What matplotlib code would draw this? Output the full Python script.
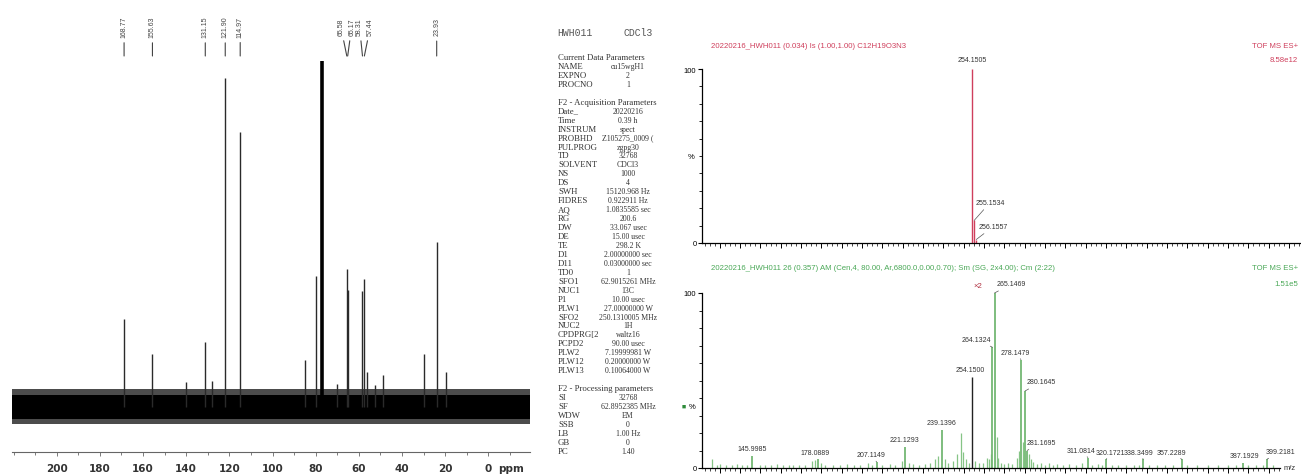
import matplotlib
matplotlib.use('Agg')
import matplotlib.pyplot as plt
from matplotlib.ticker import MultipleLocator, FixedLocator, NullFormatter

W, H = 1301, 477

# ---- 13C NMR (CDCl3) ----
nmr_labeled_ppm = [168.77, 155.63, 131.15, 121.90, 114.97, 65.58, 65.17, 58.31, 57.44, 23.93]
nmr_labeled_height = [88, 53, 65, 329, 275, 138, 117, 116, 128, 165]
nmr_other_ppm = [140.1, 128.2, 84.9, 80.0, 70.3, 56.1, 52.7, 48.7, 29.7, 19.6]
nmr_other_height = [25, 26, 47, 131, 23, 35, 22, 32, 53, 35]
solvent_ppm = 77.16
solvent_height = 360
nmr_noise_core = (-12, 12)
nmr_noise_edge = (-17, 18)
nmr_tick_values = [200, 180, 160, 140, 120, 100, 80, 60, 40, 20, 0]

# ---- acquisition / processing parameters ----
param_header = ("HWH011", "CDCl3")
param_lines = [
    ("Current Data Parameters", None),
    ("NAME", "cu15wgH1"), ("EXPNO", "2"), ("PROCNO", "1"),
    ("", None),
    ("F2 - Acquisition Parameters", None),
    ("Date_", "20220216"), ("Time", "0.39 h"), ("INSTRUM", "spect"),
    ("PROBHD", "Z105275_0009 ("), ("PULPROG", "zgpg30"), ("TD", "32768"),
    ("SOLVENT", "CDCl3"), ("NS", "1000"), ("DS", "4"),
    ("SWH", "15120.968 Hz"), ("FIDRES", "0.922911 Hz"), ("AQ", "1.0835585 sec"),
    ("RG", "200.6"), ("DW", "33.067 usec"), ("DE", "15.00 usec"),
    ("TE", "298.2 K"), ("D1", "2.00000000 sec"), ("D11", "0.03000000 sec"),
    ("TD0", "1"), ("SFO1", "62.9015261 MHz"), ("NUC1", "13C"),
    ("P1", "10.00 usec"), ("PLW1", "27.00000000 W"), ("SFO2", "250.1310005 MHz"),
    ("NUC2", "1H"), ("CPDPRG[2", "waltz16"), ("PCPD2", "90.00 usec"),
    ("PLW2", "7.19999981 W"), ("PLW12", "0.20000000 W"), ("PLW13", "0.10064000 W"),
    ("", None),
    ("F2 - Processing parameters", None),
    ("SI", "32768"), ("SF", "62.8952385 MHz"), ("WDW", "EM"), ("SSB", "0"),
    ("LB", "1.00 Hz"), ("GB", "0"), ("PC", "1.40"),
]

# ---- HRMS: calculated isotope pattern ----
calc_title = "20220216_HWH011 (0.034) Is (1.00,1.00) C12H19O3N3"
calc_mode, calc_scale = "TOF MS ES+", "8.58e12"
calc_mz = [254.1505, 255.1534, 256.1557]
calc_int = [100, 13, 2]

# ---- HRMS: measured spectrum ----
meas_title = ("20220216_HWH011 26 (0.357) AM (Cen,4, 80.00, Ar,6800.0,0.00,0.70); "
              "Sm (SG, 2x4.00); Cm (2:22)")
meas_mode, meas_scale = "TOF MS ES+", "1.51e5"
meas_mz = [145.9985, 178.0889, 207.1149, 221.1293, 239.1396, 254.1500, 264.1324,
           265.1469, 278.1479, 280.1645, 281.1695, 311.0814, 320.1721, 338.3499,
           357.2289, 387.1929, 399.2181]
meas_int = [7, 5, 3.5, 12, 22, 52, 69, 100, 62, 44, 10, 6, 5, 5, 5, 3, 5]
lock_mz = 254.1500
bg_mz = [126.0, 128.5, 130.1, 133.0, 136.0, 138.3, 141.0, 143.5, 149.8, 152.0,
         155.0, 158.0, 161.0, 164.0, 166.0, 169.0, 172.0, 175.2, 176.8, 179.6,
         182.0, 185.7, 189.0, 192.4, 196.0, 199.0, 203.1, 205.0, 210.0, 213.7,
         216.0, 219.5, 223.0, 225.2, 228.0, 231.0, 233.4, 235.9, 237.5, 240.8,
         242.5, 244.9, 246.8, 248.5, 249.8, 251.1, 252.5, 255.5, 257.5, 259.6,
         261.3, 262.5, 263.2, 266.15, 267.1, 268.5, 270.0, 272.0, 274.0, 276.1,
         277.1, 279.15, 282.1, 283.1, 284.1, 286.0, 288.0, 290.0, 292.0, 294.0,
         296.0, 299.0, 302.0, 305.0, 308.0, 313.0, 316.0, 318.0, 323.0, 326.0,
         330.0, 334.0, 336.0, 341.0, 345.0, 349.0, 353.0, 360.0, 365.0, 370.0,
         375.0, 380.0, 384.0, 390.0, 394.0, 397.0, 402.0]
bg_int = [5, 2, 2.5, 1.5, 2, 2.5, 1.5, 2, 2, 1.5,
          2, 2.5, 1.5, 2, 2, 1.5, 2, 4, 4.5, 3,
          2, 2, 1.5, 2.5, 1.5, 2, 3, 2, 2, 2.5,
          1.5, 4, 3, 2.5, 2, 2.5, 3, 5, 7, 5,
          3, 4, 8, 20, 9, 5, 3, 4, 3, 3,
          6, 5, 8, 18, 6, 3, 2.5, 3, 2.5, 6,
          10, 15, 8, 5, 3.5, 2.5, 3, 2, 3, 2,
          2.5, 2, 2.5, 2, 3, 2, 2.5, 2, 2, 1.5,
          2, 1.5, 2, 1.5, 2, 1.5, 2, 1.5, 2, 1.5,
          2, 1.5, 2, 1.5, 2, 1.5, 2]

# label nudges (pixels)
nmr_label_dx = {65.58: -6, 65.17: 4, 58.31: -3, 57.44: 6}
calc_label_off = {254.1505: (0, 10), 255.1534: (16, 18), 256.1557: (17, 13)}
meas_label_off = {145.9985: (0, 7), 178.0889: (-2, 7), 207.1149: (-5, 7),
                  221.1293: (-1, 7), 239.1396: (0, 7), 254.1500: (-2, 7),
                  264.1324: (-16, 8), 265.1469: (17, 9), 278.1479: (-6, 7),
                  280.1645: (16, 9), 281.1695: (14, 8), 311.0814: (-7, 7),
                  320.1721: (4, 7), 338.3499: (-5, 7), 357.2289: (-10, 7),
                  387.1929: (2, 7), 399.2181: (13, 8)}

RED = '#cf3f5c'
GREEN = '#4aa857'
PEAK_GREEN = '#86c486'
SANS = ['Liberation Sans', 'DejaVu Sans']


def rect(left, top, right, bottom):
    return [left / W, 1 - bottom / H, (right - left) / W, (bottom - top) / H]


def fig_text(x, y, s, **kw):
    fig.text(x / W, 1 - y / H, s, **kw)


fig = plt.figure(figsize=(W / 100, H / 100), dpi=100)

# ================= NMR =================
ax = fig.add_axes(rect(12, 62, 530, 453))
ax.set_xlim(220.7, -19.3)
ax.set_ylim(-44.8, 346.5)
ax.axhspan(*nmr_noise_edge, color='black', alpha=0.7, lw=0)
ax.axhspan(*nmr_noise_core, color='black', lw=0)
ax.vlines(nmr_labeled_ppm, 0, nmr_labeled_height, color='#2a2a2a', lw=1.0)
ax.vlines(nmr_other_ppm, 0, nmr_other_height, color='#2a2a2a', lw=1.0)
ax.vlines([solvent_ppm], 0, [solvent_height], color='black', lw=2.6)
for s in ['left', 'right', 'top']:
    ax.spines[s].set_visible(False)
ax.spines['bottom'].set_color('#666')
ax.spines['bottom'].set_linewidth(0.8)
ax.set_yticks([])
ax.xaxis.set_major_locator(FixedLocator(nmr_tick_values))
ax.xaxis.set_minor_locator(MultipleLocator(10))
ax.tick_params(axis='x', which='major', length=3, width=0.6, color='#666',
               labelsize=7.5, labelcolor='#333', pad=5)
ax.tick_params(axis='x', which='minor', length=2, width=0.6, color='#666')
for lbl in ax.get_xticklabels():
    lbl.set_fontweight('bold')
ax.annotate('ppm', xy=(-10.5, 0), xycoords=('data', 'axes fraction'),
            xytext=(0, -16), textcoords='offset pixels', ha='center', va='center',
            fontsize=7.5, color='#333', fontweight='bold', annotation_clip=False)
for ppm in nmr_labeled_ppm:
    dx = nmr_label_dx.get(ppm, 0)
    ax.annotate(f'{ppm:.2f}', xy=(ppm, H - 57), xycoords=('data', 'figure pixels'),
                xytext=(dx, 29.5), textcoords='offset pixels', rotation=90,
                ha='center', va='center', fontsize=5, color='#444', family=SANS,
                annotation_clip=False,
                arrowprops=dict(arrowstyle='-', lw=0.8, color='#444',
                                shrinkA=2, shrinkB=0))

# ================= parameters =================
fig_text(557, 33, param_header[0], fontsize=7, family='Liberation Mono', color='#555',
         va='center')
fig_text(623, 33, param_header[1], fontsize=7, family='Liberation Mono', color='#555',
         va='center')
for i, (key, val) in enumerate(param_lines):
    y = 58 + i * 8.95
    fig_text(558, y, key, fontsize=6.3, family='Liberation Serif', color='#333',
             va='center')
    if val is not None:
        fig_text(628, y, val, fontsize=5.6, family='Liberation Serif', color='#333',
                 va='center', ha='center')


# ================= HRMS =================
def ms_axes(r, xr, pct_frac):
    a = fig.add_axes(r)
    a.set_xlim(*xr)
    a.set_ylim(0, 100)
    for s in ['right', 'top']:
        a.spines[s].set_visible(False)
    for s in ['left', 'bottom']:
        a.spines[s].set_linewidth(0.9)
    a.set_yticks([0, 100])
    a.set_yticklabels(['0', '100'])
    a.yaxis.set_minor_locator(MultipleLocator(10))
    a.xaxis.set_major_locator(MultipleLocator(10))
    a.xaxis.set_minor_locator(MultipleLocator(2.5))
    a.xaxis.set_major_formatter(NullFormatter())
    a.tick_params(axis='y', which='major', length=3, labelsize=5.5, pad=1)
    a.tick_params(axis='y', which='minor', length=2)
    a.tick_params(axis='x', which='major', length=3.5, width=0.7)
    a.tick_params(axis='x', which='minor', length=2, width=0.5)
    for lbl in a.get_yticklabels():
        lbl.set_family(SANS)
    a.text(-0.012, pct_frac, '%', transform=a.transAxes, ha='right', va='center',
           fontsize=5.5, family=SANS)
    return a


def ms_labels(a, mzs, ints, offsets):
    for mz, it in zip(mzs, ints):
        dx, dy = offsets[mz]
        arrow = None
        if abs(dx) > 3:
            arrow = dict(arrowstyle='-', lw=0.5, color='#555', shrinkA=1, shrinkB=0)
        a.annotate(f'{mz:.4f}', xy=(mz, it), xytext=(dx, dy),
                   textcoords='offset pixels', ha='center', va='center',
                   fontsize=5.0, color='#333', family=SANS, annotation_clip=False,
                   arrowprops=arrow)


# calculated
ax1 = ms_axes(rect(702, 70, 1301, 244), (121.25, 415.9), 0.5)
ax1.vlines(calc_mz, 0, calc_int, color=RED, lw=1.0)
ms_labels(ax1, calc_mz, calc_int, calc_label_off)
fig_text(711, 46, calc_title, fontsize=5.6, color=RED, family=SANS, va='center')
fig_text(1298, 46, calc_mode, fontsize=5.6, color=RED, family=SANS, va='center',
         ha='right')
fig_text(1298, 61, calc_scale, fontsize=5.6, color=RED, family=SANS, va='center',
         ha='right')

# measured
ax2 = ms_axes(rect(702, 294, 1280, 469), (121.25, 405.6), 0.35)
ax2.vlines(bg_mz, 0, bg_int, color=PEAK_GREEN, lw=0.9)
other = [(m, i) for m, i in zip(meas_mz, meas_int) if m != lock_mz]
ax2.vlines([m for m, _ in other], 0, [i for _, i in other], color='#74b874', lw=1.3)
ax2.vlines([lock_mz], 0, [meas_int[meas_mz.index(lock_mz)]], color='#222', lw=1.0)
ms_labels(ax2, meas_mz, meas_int, meas_label_off)
ax2.annotate('m/z', xy=(1, 0), xycoords='axes fraction', xytext=(10, 0),
             textcoords='offset pixels', ha='center', va='center', fontsize=5.5,
             family=SANS, color='#333', annotation_clip=False)
fig_text(711, 268, meas_title, fontsize=5.6, color=GREEN, family=SANS, va='center')
fig_text(1298, 268, meas_mode, fontsize=5.6, color=GREEN, family=SANS, va='center',
         ha='right')
fig_text(1298, 284, meas_scale, fontsize=5.6, color=GREEN, family=SANS, va='center',
         ha='right')
fig_text(978, 286, '\u00d72', fontsize=5.6, color='#b03040', family=SANS, va='center',
         ha='center')
fig_text(684, 407, '\u25a0', fontsize=5, color='#2e8b3a', family=SANS, va='center',
         ha='center')

fig.savefig('out.png', dpi=100)
